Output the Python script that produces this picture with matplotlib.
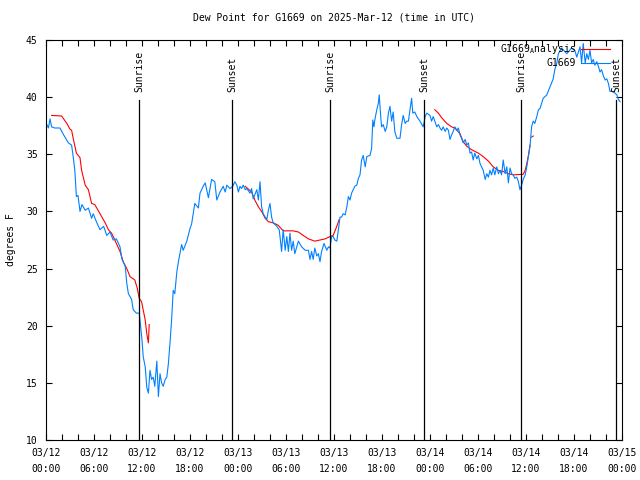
import matplotlib
matplotlib.use("Agg")
import matplotlib.pyplot as plt
import matplotlib.dates as mdates
import numpy as np
import pandas as pd

START = pd.Timestamp("2025-03-12 00:00")
END = pd.Timestamp("2025-03-15 00:00")

# station observations: hours after 03/12 00:00 UTC, dew point (F)
obs_hours = [
    0.1, 0.3, 0.5, 0.7, 1.1, 1.75, 2.2, 2.8, 3.2, 3.4, 3.6, 3.8, 4.0, 4.25, 4.5, 4.9,
    5.3, 5.7, 5.9, 6.3, 6.75, 7.2, 7.6, 8.0, 8.4, 8.8, 9.25, 9.5, 9.9, 10.1, 10.3, 10.7,
    10.9, 11.3, 11.65, 11.75, 12.0, 12.15, 12.4, 12.6, 12.8, 13.0, 13.2, 13.4, 13.6, 13.85,
    14.05, 14.25, 14.45, 14.65, 14.9, 15.1, 15.3, 15.5, 15.7, 15.9, 16.1, 16.35, 16.55,
    16.95, 17.15, 17.6, 18.0, 18.2, 18.6, 19.05, 19.25, 19.65, 19.9, 20.3, 20.7, 21.1,
    21.35, 21.75, 22.15, 22.4, 22.6, 23.0, 23.35, 23.6, 23.85, 24.05, 24.25, 24.45, 24.65,
    24.9, 25.1, 25.5, 25.7, 25.9, 26.35, 26.55, 26.75, 26.95, 27.15, 27.4, 27.6, 27.8,
    28.0, 28.2, 28.4, 28.85, 29.15, 29.25, 29.45, 29.65, 29.9, 30.1, 30.3, 30.5, 30.7,
    30.9, 31.1, 31.55, 31.95, 32.4, 32.8, 33.0, 33.2, 33.4, 33.6, 33.85, 34.05, 34.25,
    34.45, 34.75, 35.1, 35.3, 35.5, 35.7, 35.9, 36.1, 36.35, 36.55, 36.75, 36.95, 37.15,
    37.4, 37.6, 37.8, 38.0, 38.2, 38.4, 38.6, 38.85, 39.05, 39.25, 39.45, 39.65, 39.9,
    40.1, 40.5, 40.7, 40.85, 41.0, 41.1, 41.35, 41.55, 41.65, 41.85, 41.95, 42.15, 42.4,
    42.6, 42.8, 43.0, 43.2, 43.4, 43.6, 43.85, 44.25, 44.45, 44.65, 44.9, 45.1, 45.3,
    45.5, 45.7, 45.85, 46.1, 46.35, 46.75, 47.15, 47.4, 47.6, 48.0, 48.2, 48.4, 48.85,
    49.05, 49.25, 49.45, 49.65, 49.9, 50.1, 50.3, 50.5, 50.7, 50.9, 51.1, 51.35, 51.55,
    51.75, 51.95, 52.15, 52.4, 52.6, 52.8, 53.0, 53.2, 53.4, 53.6, 53.85, 54.05, 54.25,
    54.45, 54.65, 54.9, 55.1, 55.3, 55.5, 55.7, 55.9, 56.1, 56.35, 56.55, 56.75, 56.95,
    57.15, 57.4, 57.6, 57.8, 58.0, 58.2, 58.4, 58.6, 58.85, 59.05, 59.25, 59.45, 59.65,
    59.9, 60.1, 60.3, 60.5, 60.7, 60.9, 61.1, 61.35, 61.55, 61.75, 62.15, 62.6, 63.0,
    63.4, 63.6, 63.85, 64.05, 64.45, 65.1, 65.7, 66.1, 66.35, 66.75, 66.95, 67.15, 67.4,
    67.6, 67.8, 68.0, 68.2, 68.4, 68.6, 68.85, 69.05, 69.25, 69.45, 69.65, 69.9, 70.1,
    70.3, 70.5, 70.9, 71.35, 71.55, 71.75,
]
obs_dewpt = [
    37.6, 37.3, 38.1, 37.4, 37.3, 37.3, 36.7, 36.0, 35.8, 34.8, 33.6, 31.3, 31.4, 30.0, 30.6, 30.1,
    30.3, 29.4, 29.8, 29.1, 28.4, 28.7, 27.9, 28.2, 27.5, 27.6, 26.9, 25.8, 25.2, 23.7, 22.8, 22.3,
    21.4, 21.1, 21.1, 20.5, 18.75, 17.3, 16.4, 14.6, 14.1, 16.1, 15.3, 15.5, 14.7, 16.9,
    13.8, 15.8, 15.0, 14.7, 15.3, 15.5, 16.7, 18.5, 20.5, 23.1, 22.8, 24.7, 25.6,
    27.1, 26.6, 27.4, 28.5, 28.9, 30.7, 30.3, 31.6, 32.2, 32.5, 31.2, 32.8, 32.6,
    31.0, 31.7, 32.2, 31.7, 32.3, 32.0, 32.2, 32.6, 32.3, 31.7, 32.2, 32.0, 32.3,
    31.9, 32.0, 31.6, 32.0, 31.1, 31.9, 31.0, 32.6, 30.4, 29.8, 29.5, 29.3, 30.1,
    30.7, 29.5, 29.0, 28.7, 28.4, 27.8, 26.5, 28.4, 26.6, 27.8, 26.5, 28.1, 26.6,
    27.4, 26.3, 27.4, 26.9, 26.6, 26.6, 25.8, 26.5, 25.8, 26.8, 26.1, 26.3, 25.6,
    26.5, 27.2, 26.6, 26.9, 26.8, 27.8, 27.8, 27.5, 27.4, 28.4, 29.5, 29.5, 29.8,
    29.7, 30.4, 31.3, 31.0, 31.6, 31.9, 32.2, 32.3, 32.9, 33.2, 34.5, 34.9, 33.9,
    34.8, 34.9, 35.5, 38.0, 37.4, 38.0, 38.9, 39.5, 40.2, 38.2, 37.4, 37.6, 37.0,
    37.4, 38.6, 39.2, 37.9, 38.7, 37.0, 36.4, 36.4, 37.6, 38.4, 37.7, 37.9, 37.9,
    38.9, 39.9, 38.6, 38.7, 38.3, 37.9, 37.4, 38.3, 38.6, 38.4, 37.9, 38.3, 37.4,
    37.6, 37.3, 37.1, 37.4, 37.0, 37.3, 37.1, 36.3, 36.7, 37.0, 37.4, 37.1, 37.3,
    36.7, 36.4, 36.0, 36.3, 35.8, 36.0, 35.1, 35.2, 34.5, 35.1, 34.6, 34.9, 34.2,
    33.9, 33.6, 32.8, 33.3, 33.0, 33.6, 33.2, 33.8, 33.2, 33.9, 33.3, 33.6, 33.2,
    34.5, 33.3, 33.9, 32.5, 33.8, 33.3, 33.2, 32.9, 33.0, 32.6, 31.9, 32.3, 32.8,
    33.2, 33.9, 34.8, 35.7, 37.4, 37.9, 37.7, 38.3, 38.9, 39.0, 39.9, 40.2, 40.9,
    41.6, 42.4, 43.0, 43.8, 44.3, 43.8, 44.3, 44.1, 43.5, 44.4, 43.0, 44.7, 43.0,
    43.8, 43.3, 44.1, 43.0, 43.3, 42.8, 43.1, 42.7, 42.2, 42.4, 41.9, 41.5, 41.6,
    41.2, 40.5, 40.5, 40.2, 39.8, 39.6,
]

# analysis series, NaN marks a gap
ana_hours = [
    0.7, 1.95, 2.6, 3.0, 3.2, 3.4, 3.8, 4.25, 4.45, 4.9, 5.3, 5.7, 6.1, 6.75, 7.4, 7.8,
    8.2, 8.6, 9.25, 9.65, 10.1, 10.5, 11.1, 11.4, 11.65, 11.95, 12.4, 12.6, 12.8, 12.9,
    18.0,
    24.9, 25.7, 26.1, 26.55, 26.95, 27.4, 27.8, 28.4, 29.0, 29.65, 30.9, 31.55, 32.15,
    32.8, 33.6, 34.25, 34.9, 35.5, 35.9, 36.35, 36.65,
    42.0,
    48.6, 49.05, 49.45, 50.1, 50.7, 51.1, 51.75, 52.15, 52.6, 53.2, 54.05, 54.65, 55.3,
    55.9, 56.55, 57.15, 57.8, 58.4, 59.65, 59.9, 60.1, 60.3, 60.5,
    60.6,
    60.7, 60.9,
]
ana_dewpt = [
    38.4, 38.35, 37.7, 37.2, 37.1, 36.4, 35.1, 34.7, 33.6, 32.3, 31.9, 30.7, 30.6, 29.8, 29.0, 28.4,
    28.1, 27.5, 26.5, 25.6, 25.0, 24.3, 24.0, 23.3, 22.4, 22.1, 20.5, 19.3, 18.5, 20.1,
    np.nan,
    32.2, 31.7, 31.0, 30.4, 30.0, 29.4, 29.1, 29.0, 28.8, 28.3, 28.3, 28.2, 27.9,
    27.6, 27.4, 27.5, 27.6, 27.8, 27.9, 28.7, 29.3,
    np.nan,
    38.9, 38.6, 38.2, 37.7, 37.4, 37.3, 36.8, 36.1, 35.7, 35.4, 35.1, 34.8, 34.4,
    33.9, 33.6, 33.5, 33.3, 33.2, 33.25, 33.6, 34.2, 34.9, 35.8,
    np.nan,
    36.5, 36.6,
]

sun_times = ["2025-03-12 11:39", "2025-03-12 23:15", "2025-03-13 11:32",
             "2025-03-13 23:16", "2025-03-14 11:25", "2025-03-14 23:17"]
sun_labels = ["Sunrise", "Sunset", "Sunrise", "Sunset", "Sunrise", "Sunset"]

obs_t = START + pd.to_timedelta(obs_hours, unit="h")
ana_t = START + pd.to_timedelta(ana_hours, unit="h")

plt.rcParams["font.family"] = ["DejaVu Sans Mono"]
plt.rcParams["font.size"] = 7

fig = plt.figure(figsize=(6.4, 4.8), dpi=100)
ax = fig.add_axes([46 / 640, 40 / 480, 576 / 640, 400 / 480])

ax.plot(ana_t, ana_dewpt, color="#ff0000", linewidth=0.8, label="G1669$_\\mathtt{A}$nalysis")
ax.plot(obs_t, obs_dewpt, color="#0080ff", linewidth=0.8, label="G1669")

# sunrise / sunset markers
for t, lab in zip(sun_times, sun_labels):
    ts = pd.Timestamp(t)
    ax.axvline(ts, ymin=0, ymax=0.85, color="black", linewidth=0.9)
    ax.text(ts, 0.87, lab, transform=ax.get_xaxis_transform(), rotation=90,
            ha="center", va="bottom", fontsize=7)

ax.set_xlim(START, END)
ax.set_ylim(10, 45)
ax.set_yticks(range(10, 46, 5))

ax.xaxis.set_major_locator(mdates.HourLocator(byhour=[0, 6, 12, 18]))
ax.xaxis.set_major_formatter(mdates.DateFormatter("%m/%d\n%H:%M"))
ax.xaxis.set_minor_locator(mdates.HourLocator(byhour=range(0, 24, 2)))
ax.tick_params(which="both", direction="in", top=True, right=True, length=4, width=0.8)
ax.tick_params(axis="x", pad=6)
ax.tick_params(axis="y", pad=6)
for lab in ax.get_xticklabels():
    lab.set_linespacing(1.65)

ax.set_title("Dew Point for G1669 on 2025-Mar-12 (time in UTC)", fontsize=7, pad=14)
ax.set_ylabel("degrees F", labelpad=7)

ax.legend(loc="upper right", bbox_to_anchor=(0.979, 0.995), frameon=False,
          markerfirst=False, handlelength=3.0, handletextpad=0.5, labelspacing=0.2,
          borderaxespad=0.0, borderpad=0.0, fontsize=7)

fig.savefig("out.png", dpi=100)
